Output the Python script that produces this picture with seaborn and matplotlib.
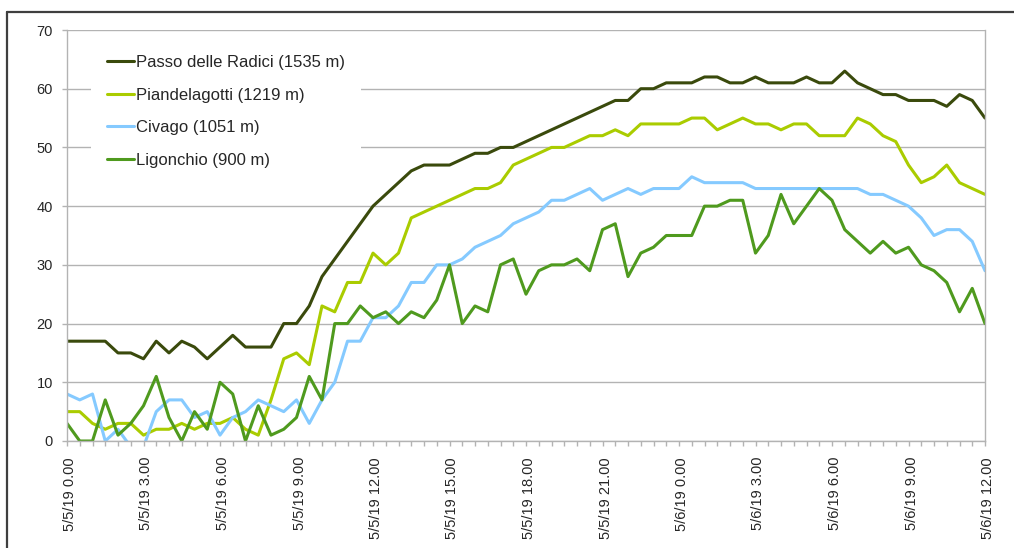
import matplotlib
matplotlib.use("Agg")
import matplotlib.pyplot as plt
import matplotlib.dates as mdates
import matplotlib.transforms as mtransforms
from matplotlib.lines import Line2D
import numpy as np
import pandas as pd
import seaborn as sns

# readings every 30 minutes, 5/5/19 0.00 -> 5/6/19 12.00
start_time = "2019-05-05 00:00"
n_steps = 73

stations = ["Passo delle Radici (1535 m)", "Piandelagotti (1219 m)",
            "Civago (1051 m)", "Ligonchio (900 m)"]

passo = [17, 17, 17, 17, 15, 15, 14, 17, 15, 17, 16, 14, 16, 18, 16, 16, 16, 20, 20, 23,
         28, 31, 34, 37, 40, 42, 44, 46, 47, 47, 47, 48, 49, 49, 50, 50, 51, 52, 53, 54,
         55, 56, 57, 58, 58, 60, 60, 61, 61, 61, 62, 62, 61, 61, 62, 61, 61, 61, 62, 61,
         61, 63, 61, 60, 59, 59, 58, 58, 58, 57, 59, 58, 55]
piandelagotti = [5, 5, 3, 2, 3, 3, 1, 2, 2, 3, 2, 3, 3, 4, 2, 1, 7, 14, 15, 13,
                 23, 22, 27, 27, 32, 30, 32, 38, 39, 40, 41, 42, 43, 43, 44, 47, 48, 49, 50, 50,
                 51, 52, 52, 53, 52, 54, 54, 54, 54, 55, 55, 53, 54, 55, 54, 54, 53, 54, 54, 52,
                 52, 52, 55, 54, 52, 51, 47, 44, 45, 47, 44, 43, 42]
civago = [8, 7, 8, 0, 2, -1, -1, 5, 7, 7, 4, 5, 1, 4, 5, 7, 6, 5, 7, 3,
          7, 10, 17, 17, 21, 21, 23, 27, 27, 30, 30, 31, 33, 34, 35, 37, 38, 39, 41, 41,
          42, 43, 41, 42, 43, 42, 43, 43, 43, 45, 44, 44, 44, 44, 43, 43, 43, 43, 43, 43,
          43, 43, 43, 42, 42, 41, 40, 38, 35, 36, 36, 34, 29]
ligonchio = [3, 0, 0, 7, 1, 3, 6, 11, 4, 0, 5, 2, 10, 8, 0, 6, 1, 2, 4, 11,
             7, 20, 20, 23, 21, 22, 20, 22, 21, 24, 30, 20, 23, 22, 30, 31, 25, 29, 30, 30,
             31, 29, 36, 37, 28, 32, 33, 35, 35, 35, 40, 40, 41, 41, 32, 35, 42, 37, 40, 43,
             41, 36, 34, 32, 34, 32, 33, 30, 29, 27, 22, 26, 20]

colors = ["#3A4A0C", "#AACC00", "#85CAFF", "#4F9A1E"]

times = pd.date_range(start_time, periods=n_steps, freq="30min")
df = pd.DataFrame({
    "time": np.tile(times.values, len(stations)),
    "station": np.repeat(stations, n_steps),
    "value": np.concatenate([passo, piandelagotti, civago, ligonchio]),
})

sns.set_style("white")
plt.rcParams["font.family"] = ["Liberation Sans", "DejaVu Sans"]

W, H = 1014, 548
fig = plt.figure(figsize=(W / 100, H / 100), dpi=100)
ax = fig.add_axes([67 / W, 1 - 441 / H, (985 - 67) / W, (441 - 30) / H])

sns.lineplot(data=df, x="time", y="value", hue="station", hue_order=stations,
             palette=colors, linewidth=2.2, estimator=None, ax=ax)

grey = "#b3b3b3"
ax.set_ylim(0, 70)
ax.set_xlim(times[0], times[-1])
ax.set_yticks(range(0, 71, 10))
ax.yaxis.grid(True, color=grey, linewidth=1)
ax.xaxis.grid(False)
ax.set_xlabel("")
ax.set_ylabel("")

ax.xaxis.set_major_locator(mdates.HourLocator(byhour=range(0, 24, 3)))
ax.xaxis.set_minor_locator(mdates.MinuteLocator(byminute=[0, 30]))


def fmt_time(v, pos=None):
    d = mdates.num2date(v)
    return f"{d.month}/{d.day}/{d:%y} {d.hour}.{d.minute:02d}"


ax.xaxis.set_major_formatter(plt.FuncFormatter(fmt_time))
ax.tick_params(axis="x", which="both", direction="out", length=3.5, width=1,
               color=grey, bottom=True, labelsize=10.5, rotation=90, pad=8)
ax.tick_params(axis="y", which="major", direction="out", length=3.5, width=1,
               color=grey, left=True, labelsize=10.5, pad=6.5)

# excel puts the rotated labels a little right of the tick
shift = mtransforms.ScaledTranslation(3 / 100, 0, fig.dpi_scale_trans)
for lbl in ax.get_xticklabels():
    lbl.set_transform(lbl.get_transform() + shift)

for side in ["left", "bottom", "right"]:
    ax.spines[side].set_color(grey)
    ax.spines[side].set_linewidth(1)
ax.spines["top"].set_visible(False)

handles, labels = ax.get_legend_handles_labels()
ax.legend(handles, labels, loc="upper left",
          bbox_to_anchor=(91 / W, 1 - 39.5 / H), bbox_transform=fig.transFigure,
          frameon=True, facecolor="white", edgecolor="none", fancybox=False,
          framealpha=1, fontsize=12, handlelength=1.6, handletextpad=0.15,
          labelspacing=1.05, borderpad=0.95, borderaxespad=0)

# outer chart border (cut by the image on the right and bottom)
border = "#3f3f3f"
fig.add_artist(Line2D([7 / W, 7 / W], [0, 1 - 12 / H], transform=fig.transFigure,
                      color=border, linewidth=1.6))
fig.add_artist(Line2D([7 / W, 1], [1 - 12 / H, 1 - 12 / H], transform=fig.transFigure,
                      color=border, linewidth=1.6))

fig.savefig("out.png", dpi=100)
